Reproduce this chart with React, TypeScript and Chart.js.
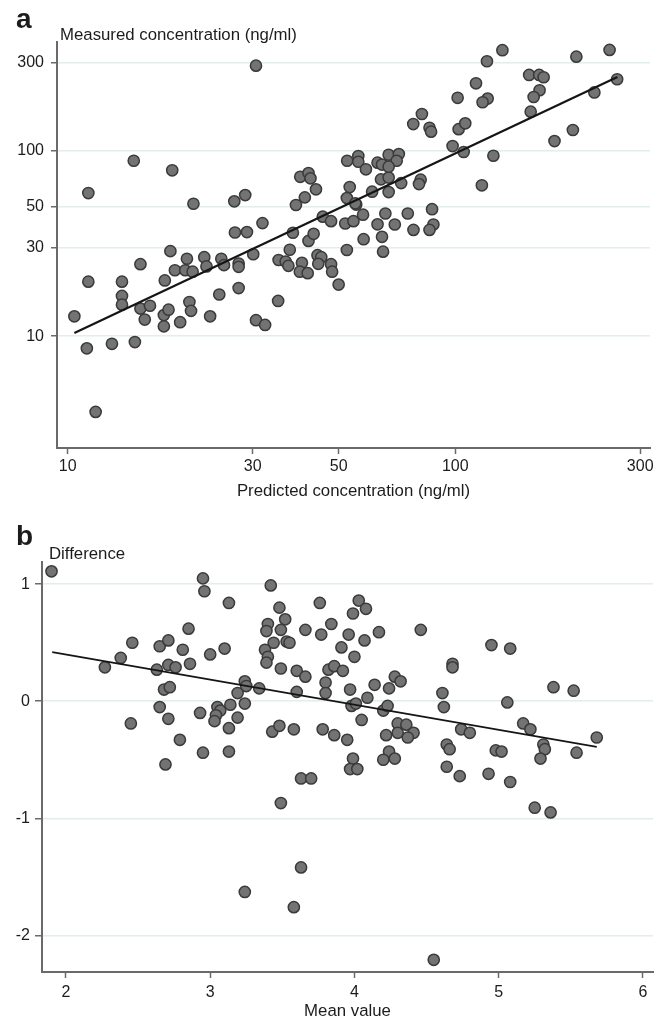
import React, { useEffect, useRef } from 'react';
import { Chart, registerables } from 'chart.js';

Chart.register(...registerables);

// ---------- Panel a: measured vs predicted (log-log) ----------
const A_X_TICKS = [10, 30, 50, 100, 300];
const A_Y_TICKS = [10, 30, 50, 100, 300];
const A_PREDICTED = [
  10.4, 11.3, 11.2, 11.8, 11.3, 13.0, 14.9, 13.8, 13.8, 13.8,
  14.8, 15.4, 15.4, 15.8, 16.3, 17.7, 17.7, 18.2, 19.5, 17.8,
  18.4, 18.6, 18.9, 20.3, 20.1, 21.0, 20.6, 20.8, 21.1, 22.5,
  22.8, 23.3, 24.6, 24.9, 25.3, 27.6, 27.6, 27.6, 26.9, 28.7,
  27.0, 29.0, 30.1, 30.6, 30.6, 32.3, 31.8, 34.9, 35.0, 36.5,
  37.1, 37.4, 38.1, 38.8, 39.8, 41.8, 42.3, 43.7, 40.9, 40.2,
  39.7, 41.6, 41.8, 43.1, 44.1, 45.1, 44.3, 47.8, 48.1, 50.0,
  45.5, 47.8, 52.5, 52.0, 54.6, 57.8, 55.5, 52.5, 53.4, 58.0,
  63.0, 66.0, 64.7, 65.1, 69.8, 61.0, 67.3, 64.3, 67.3, 52.6,
  56.2, 56.2, 58.8, 63.0, 64.7, 67.3, 71.5, 70.6, 67.3, 72.5,
  81.4, 80.6, 75.4, 87.1, 87.8, 85.8, 78.0, 82.0, 77.9, 85.8,
  86.6, 102, 106.1, 98.4, 105.1, 125.4, 117.1, 101.4, 121.2, 117.6,
  113.1, 120.7, 132.3, 155.1, 164.6, 169.0, 165.0, 159.3, 156.5, 205.3,
  250.1, 261.6, 228.5, 201.1, 180.3, 55.2,
];
const A_MEASURED = [
  12.8, 19.7, 8.6, 3.9, 59.3, 9.1, 9.3, 19.7, 16.5, 14.8,
  88.6, 24.5, 14.1, 12.3, 14.6, 13.0, 11.3, 13.9, 11.9, 20.0,
  28.8, 78.7, 22.7, 26.2, 22.7, 22.3, 15.3, 13.7, 51.9, 26.7,
  23.8, 12.8, 16.8, 26.2, 24.2, 24.7, 23.7, 18.2, 53.5, 57.8,
  36.3, 36.5, 27.7, 289, 12.2, 11.5, 40.8, 15.5, 25.8, 25.3,
  24.0, 29.3, 36.2, 51.1, 72.6, 76.0, 71.2, 62.1, 56.2, 24.9,
  22.3, 21.9, 32.7, 35.7, 27.4, 26.7, 24.6, 24.5, 22.3, 19.0,
  44.2, 41.8, 29.2, 40.6, 41.8, 45.3, 51.4, 55.7, 63.9, 33.4,
  40.2, 46.0, 34.4, 28.6, 40.1, 60.3, 60.0, 70.3, 71.9, 88.6,
  94.0, 87.5, 79.7, 86.5, 84.5, 95.5, 96.3, 88.6, 82.3, 67.1,
  70.0, 66.3, 46.0, 48.5, 40.1, 37.5, 37.5, 158.5, 139.9, 133.5,
  127.2, 131.2, 141.1, 106.4, 98.8, 94.3, 65.3, 193.9, 192.0, 183.4,
  232.2, 305.4, 350.3, 257.5, 257.5, 250.3, 212.9, 195.8, 163.1, 323.4,
  351.6, 244.1, 207.2, 129.9, 113.2, 52.2,
];
const A_FIT_X = [10.4, 262];
const A_FIT_Y = [10.4, 251];

// ---------- Panel b: difference vs mean ----------
const B_X_TICKS = [2, 3, 4, 5, 6];
const B_Y_TICKS = [1, 0, -1, -2];
const B_MEAN = [
  1.90, 2.27, 2.38, 2.46, 2.45, 2.65, 2.71, 2.63, 2.71, 2.76,
  2.68, 2.72, 2.65, 2.71, 2.81, 2.85, 2.86, 2.79, 2.69, 2.95,
  2.96, 3.00, 3.10, 3.13, 2.93, 2.95, 3.13, 3.05, 3.07, 3.04,
  3.03, 3.14, 3.24, 3.19, 3.13, 3.24, 3.25, 3.19, 3.34, 3.42,
  3.48, 3.52, 3.40, 3.39, 3.49, 3.44, 3.53, 3.55, 3.38, 3.40,
  3.39, 3.49, 3.60, 3.66, 3.66, 3.76, 3.77, 3.84, 3.60, 3.43,
  3.48, 3.58, 3.63, 3.24, 3.58, 3.49, 3.63, 3.70, 3.78, 3.86,
  3.80, 3.80, 3.82, 3.86, 3.92, 3.91, 4.00, 3.96, 4.07, 4.17,
  4.03, 4.08, 3.99, 4.46, 3.97, 4.14, 4.24, 4.09, 3.98, 4.01,
  4.20, 4.23, 4.05, 3.95, 3.99, 3.97, 4.02, 4.22, 4.30, 4.36,
  4.41, 4.30, 4.37, 4.24, 4.20, 4.28, 4.28, 4.32, 4.61, 4.62,
  4.68, 4.68, 4.74, 4.80, 4.64, 4.66, 4.64, 4.73, 4.93, 5.08,
  4.98, 5.02, 4.95, 5.08, 5.06, 5.17, 5.22, 5.31, 5.32, 5.29,
  5.38, 5.52, 5.54, 5.68, 5.25, 5.36, 4.55,
];
const B_DIFFERENCE = [
  1.11, 0.29, 0.37, 0.50, -0.19, 0.47, 0.52, 0.27, 0.31, 0.29,
  0.10, 0.12, -0.05, -0.15, 0.44, 0.62, 0.32, -0.33, -0.54, 1.05,
  0.94, 0.40, 0.45, 0.84, -0.10, -0.44, -0.43, -0.05, -0.08, -0.12,
  -0.17, -0.03, -0.02, -0.14, -0.23, 0.17, 0.13, 0.07, 0.11, 0.99,
  0.80, 0.70, 0.66, 0.60, 0.61, 0.50, 0.51, 0.50, 0.44, 0.38,
  0.33, 0.28, 0.26, 0.21, 0.61, 0.84, 0.57, 0.66, 0.08, -0.26,
  -0.21, -0.24, -1.42, -1.63, -1.76, -0.87, -0.66, -0.66, -0.24, -0.29,
  0.16, 0.07, 0.27, 0.30, 0.26, 0.46, 0.38, 0.57, 0.52, 0.59,
  0.86, 0.79, 0.75, 0.61, 0.10, 0.14, 0.11, 0.03, -0.04, -0.02,
  -0.08, -0.04, -0.16, -0.33, -0.49, -0.58, -0.58, -0.29, -0.19, -0.20,
  -0.27, -0.27, -0.31, -0.43, -0.50, -0.49, 0.21, 0.17, 0.07, -0.05,
  0.32, 0.29, -0.24, -0.27, -0.37, -0.41, -0.56, -0.64, -0.62, -0.69,
  -0.42, -0.43, 0.48, 0.45, -0.01, -0.19, -0.24, -0.37, -0.41, -0.49,
  0.12, 0.09, -0.44, -0.31, -0.91, -0.95, -2.21,
];
const B_FIT_X = [1.905, 5.68];
const B_FIT_Y = [0.42, -0.39];

// ---------- styling ----------
const FONT = "'Liberation Sans', Arial, Helvetica, sans-serif";
const TEXT = '#1c1c1c';
const AXIS = '#6a6a6a';
const GRID = '#e2eded';
const POINT_FILL = '#737373';
const POINT_BORDER = '#3a3a3a';
const TITLE_SIZE = 16.8;

type PanelProps = {
  width: number;
  height: number;
  log: boolean;
  xs: number[];
  ys: number[];
  fitX: number[];
  fitY: number[];
  fitWidth: number;
  xTicks: number[];
  yTicks: number[];
  xMin: number;
  xMax: number;
  yMin: number;
  yMax: number;
  left: number;
  right: number;
  top: number;
  bottom: number;
  yTickPad: number;
  yTickLen: number;
  xTickPad: number;
  xTitle: string;
  xTitlePad: number;
};

function fixedTicks(values: number[]) {
  return (axis: any) => {
    axis.ticks = values.map((v) => ({ value: v }));
  };
}

function Panel(p: PanelProps) {
  const ref = useRef<HTMLCanvasElement | null>(null);
  useEffect(() => {
    if (!ref.current) return;
    const points = p.xs.map((x, i) => ({ x, y: p.ys[i] }));
    const fit = p.fitX.map((x, i) => ({ x, y: p.fitY[i] }));
    const chart = new Chart(ref.current, {
      type: 'scatter',
      data: {
        datasets: [
          {
            data: fit,
            showLine: true,
            borderColor: '#151515',
            borderWidth: p.fitWidth,
            pointRadius: 0,
            fill: false,
            order: 0,
          } as any,
          {
            data: points,
            backgroundColor: POINT_FILL,
            borderColor: POINT_BORDER,
            borderWidth: 1.5,
            pointRadius: 5.6,
            order: 1,
          } as any,
        ],
      },
      options: {
        animation: false,
        responsive: false,
        maintainAspectRatio: false,
        events: [],
        layout: {
          padding: { left: 0, top: p.top, right: p.width - p.right, bottom: 0 },
        },
        plugins: {
          legend: { display: false },
          tooltip: { enabled: false },
          title: { display: false },
        },
        scales: {
          x: {
            type: p.log ? 'logarithmic' : 'linear',
            position: 'bottom',
            min: p.xMin,
            max: p.xMax,
            afterBuildTicks: fixedTicks(p.xTicks),
            afterFit: (s: any) => {
              s.height = p.height - p.bottom;
            },
            ticks: {
              autoSkip: false,
              maxRotation: 0,
              padding: p.xTickPad,
              color: TEXT,
              font: { family: FONT, size: 16 },
              callback: (v: any) => String(v),
            },
            grid: {
              drawOnChartArea: false,
              drawTicks: true,
              tickLength: 6,
              tickColor: AXIS,
              tickWidth: 1.5,
            },
            border: { display: true, color: AXIS, width: 2 },
            title: {
              display: true,
              text: p.xTitle,
              color: TEXT,
              font: { family: FONT, size: TITLE_SIZE },
              padding: { top: 0, bottom: p.xTitlePad },
            },
          } as any,
          y: {
            type: p.log ? 'logarithmic' : 'linear',
            position: 'left',
            min: p.yMin,
            max: p.yMax,
            afterBuildTicks: fixedTicks(p.yTicks),
            afterFit: (s: any) => {
              s.width = p.left;
            },
            ticks: {
              autoSkip: false,
              padding: p.yTickPad,
              color: TEXT,
              font: { family: FONT, size: 16 },
              callback: (v: any) => String(v),
            },
            grid: {
              color: GRID,
              lineWidth: 1.5,
              drawTicks: true,
              tickLength: p.yTickLen,
              tickColor: AXIS,
              tickWidth: 1.5,
            },
            border: { display: true, color: AXIS, width: 2 },
          } as any,
        },
      },
    });
    return () => chart.destroy();
  }, []);
  return (
    <canvas
      ref={ref}
      width={p.width}
      height={p.height}
      style={{ display: 'block', width: p.width, height: p.height }}
    />
  );
}

const labelStyle = (left: number, top: number, size: number, bold: boolean): React.CSSProperties => ({
  position: 'absolute',
  left,
  top,
  fontFamily: FONT,
  fontSize: size,
  lineHeight: `${size}px`,
  fontWeight: bold ? 700 : 400,
  color: TEXT,
  whiteSpace: 'nowrap',
  margin: 0,
});

export default function App() {
  return (
    <div
      style={{
        position: 'absolute',
        left: 0,
        top: 0,
        width: 664,
        height: 1021,
        background: '#ffffff',
        overflow: 'hidden',
      }}
    >
      <div style={{ position: 'absolute', left: 0, top: 0 }}>
        <Panel
          width={664}
          height={505}
          log={true}
          xs={A_PREDICTED}
          ys={A_MEASURED}
          fitX={A_FIT_X}
          fitY={A_FIT_Y}
          fitWidth={2.2}
          xTicks={A_X_TICKS}
          yTicks={A_Y_TICKS}
          xMin={9.38}
          xMax={318}
          yMin={2.49}
          yMax={388}
          left={57}
          right={650}
          top={42}
          bottom={448}
          yTickPad={7}
          yTickLen={6}
          xTickPad={3}
          xTitle="Predicted concentration (ng/ml)"
          xTitlePad={4}
        />
      </div>
      <div style={{ position: 'absolute', left: 0, top: 505 }}>
        <Panel
          width={664}
          height={516}
          log={false}
          xs={B_MEAN}
          ys={B_DIFFERENCE}
          fitX={B_FIT_X}
          fitY={B_FIT_Y}
          fitWidth={1.6}
          xTicks={B_X_TICKS}
          yTicks={B_Y_TICKS}
          xMin={1.834}
          xMax={6.07}
          yMin={-2.314}
          yMax={1.19}
          left={42}
          right={653}
          top={57}
          bottom={467}
          yTickPad={5}
          yTickLen={7}
          xTickPad={5}
          xTitle="Mean value"
          xTitlePad={0}
        />
      </div>
      <div style={labelStyle(16, 5.3, 28, true)}>a</div>
      <div style={labelStyle(60, 27.4, TITLE_SIZE, false)}>Measured concentration (ng/ml)</div>
      <div style={labelStyle(16, 521.8, 28, true)}>b</div>
      <div style={labelStyle(49, 545.9, TITLE_SIZE, false)}>Difference</div>
    </div>
  );
}
